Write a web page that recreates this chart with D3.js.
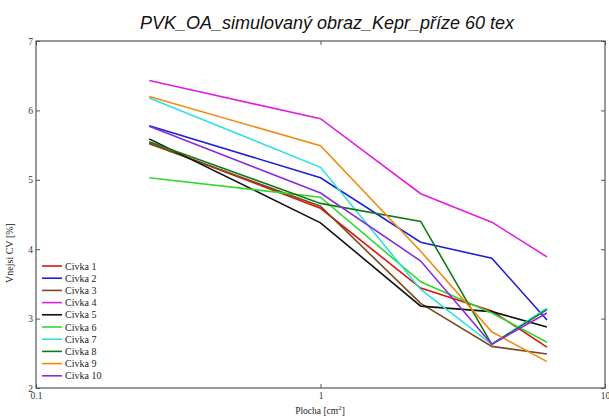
<!DOCTYPE html>
<html>
<head>
<meta charset="utf-8">
<script src="https://cdn.jsdelivr.net/npm/d3@7/dist/d3.min.js"></script>
<style>
  html, body { margin: 0; padding: 0; background: #fff; }
  svg { display: block; }
</style>
</head>
<body>
<svg id="chart" width="609" height="416"></svg>
<script>
// Sample areas (cm^2) at which CV was evaluated
const plocha = [0.25, 1, 2.25, 4, 6.25];

// Series names and CV values [%] for each bobbin
const names = ["Civka 1", "Civka 2", "Civka 3", "Civka 4", "Civka 5",
               "Civka 6", "Civka 7", "Civka 8", "Civka 9", "Civka 10"];
const civka1  = [5.53, 4.59, 3.44, 3.11, 2.59];
const civka2  = [5.78, 5.03, 4.10, 3.87, 2.98];
const civka3  = [5.52, 4.62, 3.22, 2.60, 2.49];
const civka4  = [6.43, 5.88, 4.80, 4.39, 3.89];
const civka5  = [5.59, 4.38, 3.18, 3.10, 2.88];
const civka6  = [5.03, 4.75, 3.53, 3.08, 2.66];
const civka7  = [6.18, 5.18, 3.42, 2.63, 3.15];
const civka8  = [5.55, 4.66, 4.40, 2.63, 3.13];
const civka9  = [6.20, 5.49, 3.97, 2.81, 2.38];
const civka10 = [5.77, 4.81, 3.83, 2.63, 3.08];
const values = [civka1, civka2, civka3, civka4, civka5, civka6, civka7, civka8, civka9, civka10];
const colors = ["#e01010", "#1f1fd6", "#7a4a1e", "#e020e0", "#111111",
                "#30d830", "#30e0e0", "#127a12", "#f08a10", "#8a2be2"];

const xTicks = [0.1, 1, 10];
const yTicks = [2, 3, 4, 5, 6, 7];

const svg = d3.select("#chart");
const m = { left: 36, right: 605, top: 41, bottom: 388 };

const x = d3.scaleLog().domain([0.1, 10]).range([m.left, m.right]);
const y = d3.scaleLinear().domain([2, 7]).range([m.bottom, m.top]);

const axisColor = "#555";
const serif = "'Liberation Serif', 'Times New Roman', serif";

// Title
svg.append("text")
  .attr("x", 327).attr("y", 29)
  .attr("text-anchor", "middle")
  .attr("font-family", "'Liberation Sans', Arial, sans-serif")
  .attr("font-style", "italic")
  .attr("font-size", 18)
  .attr("fill", "#111")
  .text("PVK_OA_simulovaný obraz_Kepr_příze 60 tex");

// Data lines
const line = d3.line().x((d, i) => x(plocha[i])).y(d => y(d));
svg.append("g").selectAll("path")
  .data(values)
  .join("path")
  .attr("d", d => line(d))
  .attr("fill", "none")
  .attr("stroke", (d, i) => colors[i])
  .attr("stroke-width", 1.6)
  .attr("stroke-linejoin", "miter");

// Box frame
svg.append("rect")
  .attr("x", m.left).attr("y", m.top)
  .attr("width", m.right - m.left).attr("height", m.bottom - m.top)
  .attr("fill", "none").attr("stroke", axisColor).attr("stroke-width", 1.2);

// Axes with inward ticks
const xAxisB = d3.axisBottom(x).tickValues(xTicks).tickSize(-4).tickPadding(4)
  .tickFormat(d => d3.format("")(d));
const xAxisT = d3.axisTop(x).tickValues(xTicks).tickSize(-4).tickFormat("");
const yAxisL = d3.axisLeft(y).tickValues(yTicks).tickSize(-4).tickPadding(3)
  .tickFormat(d3.format("d"));
const yAxisR = d3.axisRight(y).tickValues(yTicks).tickSize(-4).tickFormat("");

function styleAxis(g) {
  g.select(".domain").remove();
  g.selectAll(".tick line").attr("stroke", axisColor);
  g.selectAll(".tick text").attr("fill", "#333")
    .attr("font-family", serif).attr("font-size", 9.5);
}
svg.append("g").attr("transform", `translate(0,${m.bottom})`).call(xAxisB).call(styleAxis);
svg.append("g").attr("transform", `translate(0,${m.top})`).call(xAxisT).call(styleAxis);
svg.append("g").attr("transform", `translate(${m.left},0)`).call(yAxisL).call(styleAxis);
svg.append("g").attr("transform", `translate(${m.right},0)`).call(yAxisR).call(styleAxis);

// Axis labels
const xl = svg.append("text")
  .attr("x", 320).attr("y", 414)
  .attr("text-anchor", "middle")
  .attr("font-family", serif).attr("font-size", 9.5).attr("fill", "#222");
xl.append("tspan").text("Plocha [cm");
xl.append("tspan").attr("font-size", 7).attr("dy", -4).text("2");
xl.append("tspan").attr("dy", 4).text("]");

svg.append("text")
  .attr("transform", "translate(13,253) rotate(-90)")
  .attr("text-anchor", "middle")
  .attr("font-family", serif).attr("font-size", 10).attr("fill", "#222")
  .text("Vnejsi  CV [%]");

// Legend
const lg = svg.append("g");
names.forEach((n, i) => {
  const yy = 266 + i * 12.2;
  lg.append("line")
    .attr("x1", 42).attr("x2", 62).attr("y1", yy).attr("y2", yy)
    .attr("stroke", colors[i]).attr("stroke-width", 1.6);
  lg.append("text")
    .attr("x", 65).attr("y", yy + 3.5)
    .attr("font-family", serif).attr("font-size", 10).attr("fill", "#222")
    .text(n);
});
</script>
</body>
</html>
